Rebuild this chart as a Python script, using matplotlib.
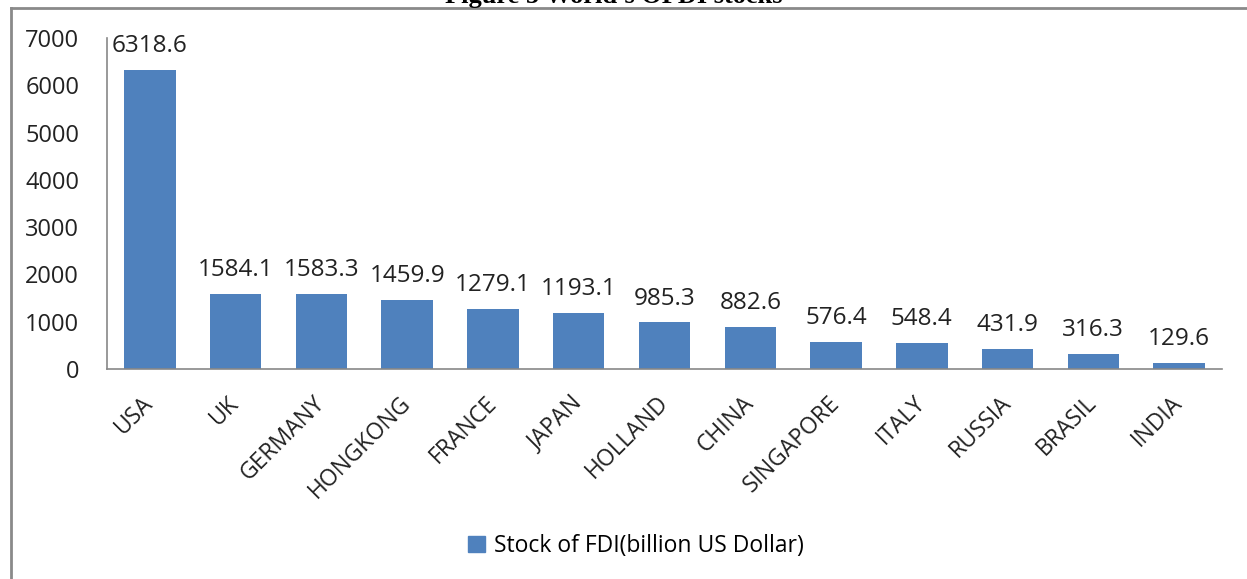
import matplotlib
matplotlib.use("Agg")
import matplotlib.pyplot as plt
from matplotlib.patches import Rectangle
from matplotlib.lines import Line2D

countries = ["USA", "UK", "GERMANY", "HONGKONG", "FRANCE", "JAPAN", "HOLLAND",
             "CHINA", "SINGAPORE", "ITALY", "RUSSIA", "BRASIL", "INDIA"]
values = [6318.6, 1584.1, 1583.3, 1459.9, 1279.1, 1193.1, 985.3,
          882.6, 576.4, 548.4, 431.9, 316.3, 129.6]
yticks = [0, 1000, 2000, 3000, 4000, 5000, 6000, 7000]
series_name = "Stock of FDI(billion US Dollar)"
title = "Figure 5 World's OFDI stocks"

W, H = 1247, 579
fig = plt.figure(figsize=(W / 100, H / 100), dpi=100)
font = "Open Sans"
fs = 16.5
bar_color = "#4F81BD"

ax = fig.add_axes([107 / W, 1 - 369 / H, (1222 - 107) / W, (369 - 38) / H])
x = list(range(len(countries)))
bars = ax.bar(x, values, width=0.6, color=bar_color, zorder=2)
ax.set_xlim(-0.5, len(countries) - 0.5)
ax.set_ylim(0, 7000)
ax.set_yticks(yticks)
ax.set_yticklabels([str(v) for v in yticks], fontfamily=font, fontsize=fs + 0.5, color="#222222")
ax.set_xticks(x)
ax.set_xticklabels(countries, rotation=45, ha="right", va="center",
                   rotation_mode="anchor", fontfamily=font, fontsize=fs, color="#222222")
ax.tick_params(axis="both", length=0)
ax.tick_params(axis="y", pad=20)
ax.tick_params(axis="x", pad=22)
for s in ["top", "right"]:
    ax.spines[s].set_visible(False)
ax.spines["left"].set_color("#888888")
ax.spines["bottom"].set_color("#888888")
ax.spines["left"].set_linewidth(1.2)
ax.spines["bottom"].set_linewidth(1.2)

for xi, v in zip(x, values):
    ax.annotate(f"{v:.1f}", (xi, v), xytext=(0, 8.5), textcoords="offset points",
                ha="center", va="bottom", fontfamily=font, fontsize=fs + 1, color="#222222")

# legend
handle = Rectangle((0, 0), 1, 1, color=bar_color)
fig.legend([handle], [series_name], loc="center", bbox_to_anchor=(636 / W, 1 - 546 / H),
           frameon=False, prop={"family": font, "size": fs}, handlelength=0.7,
           handleheight=0.7, handletextpad=0.4)

# chart border
fig.add_artist(Line2D([11 / W, 1.0], [1 - 8 / H, 1 - 8 / H], transform=fig.transFigure,
                      color="#8a8a8a", linewidth=2))
fig.add_artist(Line2D([11 / W, 11 / W], [0.0, 1 - 8 / H], transform=fig.transFigure,
                      color="#8a8a8a", linewidth=2))

# title (cut off at the top edge, as in the reference)
fig.text(614 / W, 1 - 3 / H, title, ha="center", va="baseline",
         fontfamily="Liberation Serif", fontweight="bold", fontsize=19)

fig.savefig("out.png", dpi=100, facecolor="white")
